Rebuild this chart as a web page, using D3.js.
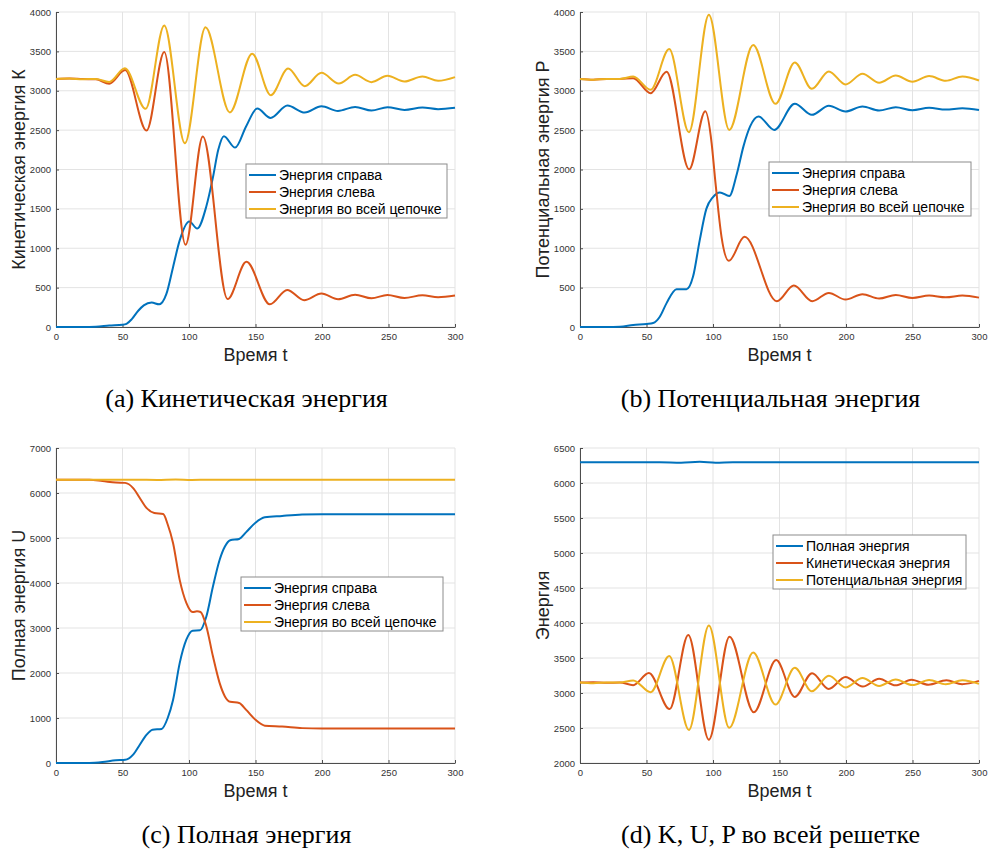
<!DOCTYPE html>
<html lang="ru">
<head>
<meta charset="utf-8">
<title>Энергия цепочки</title>
<script src="https://cdn.jsdelivr.net/npm/d3@7"></script>
<style>
  body { margin: 0; background: #fff; }
  svg { display: block; }
  .tick text { font-family: "Liberation Sans", Arial, sans-serif; font-size: 9.5px; fill: #333; }
  .lbl { font-family: "Liberation Sans", Arial, sans-serif; font-size: 18px; fill: #222; }
  .cap { font-family: "Liberation Serif", "Times New Roman", serif; font-size: 26px; fill: #000; }
  .leg { font-family: "Liberation Sans", Arial, sans-serif; font-size: 14px; fill: #000; }
</style>
</head>
<body>
<script>
// ---- data, [t, value] ----
var xTicks = [0, 50, 100, 150, 200, 250, 300];

// (a) kinetic energy
var kRight = [[0,0],[20,0],[30,3],[40,18],[50,28],[53,40],[57,100],[62,210],[66,275],[71.9,310],[77.6,288],
  [83,420],[88,760],[93,1100],[100.2,1340],[106.2,1250],[113,1530],[118,1900],[122,2250],[126.2,2422],
  [134.7,2278],[143,2550],[151.3,2774],[161.3,2655],[174,2812],[187,2723],[199.6,2804],[212,2744],
  [224.9,2795],[237.2,2749],[249.2,2791],[262,2757],[275.5,2787],[287.3,2766],[300,2783]];
var kLeft = [[0,3150],[10,3155],[20,3148],[30,3145],[40,3090],[52,3262],[68.1,2494],[81.4,3491],[97.4,1045],
  [110.4,2418],[129,355],[143.2,827],[160.8,288],[173.8,471],[186.6,339],[199.6,424],[212.1,352],
  [224.9,411],[237.2,365],[249.2,407],[262,369],[275.5,403],[287.3,378],[300,399]];
var kTotal = [[0,3150],[10,3155],[20,3146],[30,3150],[40,3112],[51.8,3285],[67.4,2770],[81.4,3830],
  [96.9,2333],[112.4,3805],[130.7,2725],[147.5,3470],[161.5,2944],[174.5,3283],[187,3058],[199.6,3228],
  [212.6,3092],[224.9,3202],[237.2,3109],[249.2,3190],[262,3118],[275.5,3181],[287.3,3126],[300,3173]];

// (b) potential energy
var pRight = [[0,0],[20,0],[30,3],[40,25],[50,38],[55,50],[60,130],[65,300],[72.6,480],[80.1,480],
  [85,640],[90,1100],[95,1500],[100,1650],[105.2,1709],[112.2,1663],[118,1950],[123,2300],[128,2550],
  [134.2,2672],[146,2503],[161.5,2834],[174.3,2694],[187.1,2808],[199.6,2736],[212.4,2800],[224.9,2749],
  [237.4,2791],[249.9,2753],[262.5,2783],[275,2761],[287.5,2778],[300,2757]];
var pLeft = [[0,3150],[10,3140],[20,3150],[30,3150],[40,3160],[53.1,2969],[65.1,3241],[82.1,2002],[94.2,2740],
  [99,2330],[101.4,1910],[104,1480],[106.4,1145],[111.9,840],[123.7,1145],[148,327],[160.8,526],[174.6,327],
  [187.1,433],[199.6,348],[212.4,416],[224.9,361],[237.4,407],[249.9,369],[262.5,399],[275,378],
  [287.5,399],[300,373]];
var pTotal = [[0,3150],[10,3140],[20,3150],[30,3150],[40,3180],[53.1,3012],[67.1,3529],[81.9,2473],
  [96.9,3966],[112.2,2503],[130.2,3580],[147,2834],[161.5,3359],[174.3,3024],[187.1,3245],[199.6,3080],
  [212.4,3215],[224.9,3101],[237.4,3194],[249.9,3113],[262.5,3186],[275,3126],[287.5,3181],[300,3130]];

// (c) full energy
var uRight = [[0,0],[25,0],[35,20],[45,60],[52,70],[58,185],[63,405],[68,625],[72.6,741],[79.4,756],
  [84,1000],[88,1400],[93,2220],[98,2740],[102.7,2941],[108.2,2948],[113,3250],[118,3920],[123,4510],
  [127,4810],[131,4950],[137.7,4978],[143,5130],[150,5340],[157,5460],[170,5490],[185,5520],[200,5530],[300,5530]];
var uLeft = [[0,6295],[25,6293],[35,6265],[45,6232],[52,6225],[58,6110],[63,5890],[68,5670],[73.9,5555],
  [80.6,5533],[84,5300],[88,4890],[93,4070],[98,3560],[102.7,3355],[106,3370],[108.7,3355],[113,3040],
  [118,2370],[123,1780],[127,1480],[131,1360],[137.7,1335],[143,1180],[150,960],[157,830],[170,810],
  [185,775],[200,765],[300,765]];
var uTotal = [[0,6295],[60,6295],[76,6290],[90,6302],[102,6290],[115,6296],[140,6295],[300,6295]];

var colors = ["#0072BD", "#D95319", "#EDB120"];
var chainNames = ["Энергия справа", "Энергия слева", "Энергия во всей цепочке"];
var latticeNames = ["Полная энергия", "Кинетическая энергия", "Потенциальная энергия"];

var W = 989, H = 850;
var svg = d3.select("body").append("svg").attr("width", W).attr("height", H);

var panels = [
  { x0: 56, x1: 455, y0: 12, y1: 327, yDom: [0, 4000], yStep: 500,
    ylab: "Кинетическая энергия К", ylx: 19, cap: "(a) Кинетическая энергия",
    series: [kRight, kLeft, kTotal], names: chainNames, leg: [246, 164, 201] },
  { x0: 580, x1: 979, y0: 12, y1: 327, yDom: [0, 4000], yStep: 500,
    ylab: "Потенциальная энергия Р", ylx: 543, cap: "(b) Потенциальная энергия",
    series: [pRight, pLeft, pTotal], names: chainNames, leg: [769, 162, 202] },
  { x0: 56, x1: 455, y0: 448, y1: 763, yDom: [0, 7000], yStep: 1000,
    ylab: "Полная энергия U", ylx: 19, cap: "(c) Полная энергия",
    series: [uRight, uLeft, uTotal], names: chainNames, leg: [241, 577, 202] },
  { x0: 580, x1: 979, y0: 448, y1: 763, yDom: [2000, 6500], yStep: 500,
    ylab: "Энергия", ylx: 543, cap: "(d) K, U, P во всей решетке",
    series: [uTotal, kTotal, pTotal], names: latticeNames, leg: [773, 535, 193] }
];

panels.forEach(function(p) {
  var x = d3.scaleLinear().domain([0, 300]).range([p.x0, p.x1]);
  var y = d3.scaleLinear().domain(p.yDom).range([p.y1, p.y0]);
  var yTicks = d3.range(p.yDom[0], p.yDom[1] + 1, p.yStep);
  var g = svg.append("g");

  // grid
  g.append("g").selectAll("line").data(xTicks).enter().append("line")
    .attr("x1", function(d) { return x(d); }).attr("x2", function(d) { return x(d); })
    .attr("y1", p.y0).attr("y2", p.y1)
    .attr("stroke", "#e3e3e3").attr("stroke-width", 1);
  g.append("g").selectAll("line").data(yTicks).enter().append("line")
    .attr("x1", p.x0).attr("x2", p.x1)
    .attr("y1", function(d) { return y(d); }).attr("y2", function(d) { return y(d); })
    .attr("stroke", "#e3e3e3").attr("stroke-width", 1);

  // axes
  var xa = g.append("g").attr("transform", "translate(0," + p.y1 + ")")
    .call(d3.axisBottom(x).tickValues(xTicks).tickSizeInner(-3).tickSizeOuter(0).tickPadding(6));
  var ya = g.append("g").attr("transform", "translate(" + p.x0 + ",0)")
    .call(d3.axisLeft(y).tickValues(yTicks).tickSizeInner(-3).tickSizeOuter(0).tickPadding(5).tickFormat(d3.format("d")));
  [xa, ya].forEach(function(a) {
    a.select(".domain").attr("stroke", "#4d4d4d");
    a.selectAll(".tick line").attr("stroke", "#4d4d4d");
  });

  // lines
  var line = d3.line()
    .x(function(d) { return x(d[0]); })
    .y(function(d) { return y(d[1]); })
    .curve(d3.curveMonotoneX);
  p.series.forEach(function(s, i) {
    g.append("path").datum(s)
      .attr("d", line)
      .attr("fill", "none")
      .attr("stroke", colors[i])
      .attr("stroke-width", 2);
  });

  // labels
  g.append("text").attr("class", "lbl")
    .attr("x", (p.x0 + p.x1) / 2).attr("y", p.y1 + 34)
    .attr("text-anchor", "middle").text("Время t");
  g.append("text").attr("class", "lbl")
    .attr("transform", "translate(" + (p.ylx + 6) + "," + ((p.y0 + p.y1) / 2) + ") rotate(-90)")
    .attr("text-anchor", "middle").text(p.ylab);
  g.append("text").attr("class", "cap")
    .attr("x", (p.x0 + p.x1) / 2 - 9).attr("y", p.y1 + 80)
    .attr("text-anchor", "middle").text(p.cap);

  // legend
  var lx = p.leg[0], ly = p.leg[1], lw = p.leg[2];
  var lg = g.append("g");
  lg.append("rect").attr("x", lx).attr("y", ly).attr("width", lw).attr("height", 54)
    .attr("fill", "#fff").attr("stroke", "#8c8c8c").attr("stroke-width", 1);
  p.names.forEach(function(n, i) {
    var ry = ly + 11 + i * 17;
    lg.append("line").attr("x1", lx + 3).attr("x2", lx + 30).attr("y1", ry).attr("y2", ry)
      .attr("stroke", colors[i]).attr("stroke-width", 2);
    lg.append("text").attr("class", "leg").attr("x", lx + 33).attr("y", ry + 5).text(n);
  });
});
</script>
</body>
</html>
